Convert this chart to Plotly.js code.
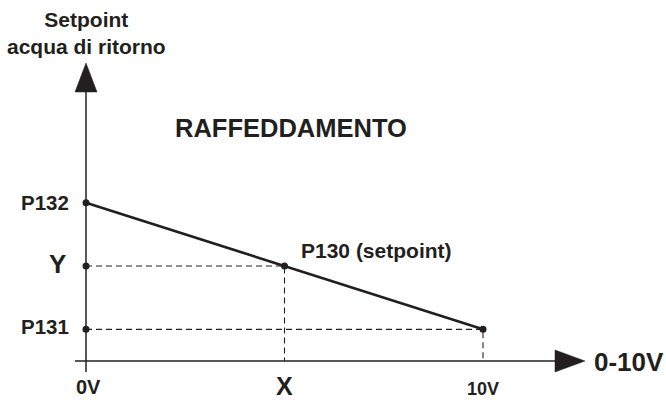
<!DOCTYPE html>
<html>
<head>
<meta charset="utf-8">
<script src="https://cdn.plot.ly/plotly-3.0.1.min.js"></script>
<style>html,body{margin:0;padding:0;background:#fff;}#chart{width:666px;height:400px;}</style>
</head>
<body>
<div id="chart"></div>
<script>
// ---- data ----
var voltage = [0, 5, 10];            // 0V, X, 10V
var setpoint = [2.5, 1.5, 0.5];      // P132, Y (P130), P131
var xTickLabels = ['0V', 'X', '10V'];
var yTickLabels = ['P132', 'Y', 'P131'];
var pointLabel = 'P130 (setpoint)';
var modeLabel = 'RAFFEDDAMENTO';
var yTitle = 'Setpoint<br>acqua di ritorno';
var xTitle = '0-10V';

var INK = '#231f20';
var FONT = 'Liberation Sans, Arial, sans-serif';
var W = 666, H = 400;
// helpers for decoration in pixel space (paper coordinates, zero margins)
function px(x){ return x / W; }
function py(y){ return 1 - y / H; }

var traces = [];
// main characteristic line P132 -> P131
traces.push({
  x: [voltage[0], voltage[2]], y: [setpoint[0], setpoint[2]],
  mode: 'lines', line: {color: INK, width: 2.6}, hoverinfo: 'skip'
});
// dashed guides for the setpoint point
traces.push({
  x: [voltage[0], voltage[1], voltage[1]], y: [setpoint[1], setpoint[1], 0],
  mode: 'lines', line: {color: INK, width: 1.1, dash: '6px,4px'}, hoverinfo: 'skip'
});
traces.push({
  x: [voltage[0], voltage[2], voltage[2]], y: [setpoint[2], setpoint[2], 0],
  mode: 'lines', line: {color: INK, width: 1.1, dash: '6px,4px'}, hoverinfo: 'skip'
});
// dots
traces.push({
  x: [voltage[0], voltage[0], voltage[0], voltage[1], voltage[2]],
  y: [setpoint[0], setpoint[1], setpoint[2], setpoint[1], setpoint[2]],
  mode: 'markers', marker: {color: INK, size: 7}, hoverinfo: 'skip'
});

var shapes = [
  // y axis line
  {type: 'line', xref: 'paper', yref: 'paper', x0: px(86), x1: px(86), y0: py(372), y1: py(90), line: {color: INK, width: 1.5}},
  // y arrow head
  {type: 'path', xref: 'paper', yref: 'paper', path: 'M ' + px(75) + ' ' + py(92) + ' L ' + px(97) + ' ' + py(92) + ' L ' + px(86) + ' ' + py(63) + ' Z', fillcolor: INK, line: {color: INK, width: 0.5}},
  // x axis line
  {type: 'line', xref: 'paper', yref: 'paper', x0: px(75), x1: px(557), y0: py(361), y1: py(361), line: {color: INK, width: 1.5}},
  // x arrow head
  {type: 'path', xref: 'paper', yref: 'paper', path: 'M ' + px(555) + ' ' + py(350) + ' L ' + px(555) + ' ' + py(372) + ' L ' + px(585) + ' ' + py(361) + ' Z', fillcolor: INK, line: {color: INK, width: 0.5}}
];

function ann(text, x, y, size, opts){
  var a = {text: '<b>' + text + '</b>', x: x, y: y, xref: 'x', yref: 'y', showarrow: false,
    font: {family: FONT, size: size, color: INK}, xanchor: 'center', yanchor: 'middle'};
  for (var k in opts) a[k] = opts[k];
  return a;
}

var annotations = [
  ann(yTitle, px(86), py(33), 21, {xref: 'paper', yref: 'paper'}),
  ann(modeLabel, px(291), py(128), 25.5, {xref: 'paper', yref: 'paper'}),
  ann(pointLabel, px(377), py(251), 21, {xref: 'paper', yref: 'paper'}),
  ann(yTickLabels[0], px(71), setpoint[0], 20.5, {xref: 'paper', xanchor: 'right'}),
  ann(yTickLabels[1], px(68), py(264), 26, {xref: 'paper', yref: 'paper', xanchor: 'right'}),
  ann(yTickLabels[2], px(71), setpoint[2], 20.5, {xref: 'paper', xanchor: 'right', yshift: 3}),
  ann(xTickLabels[0], voltage[0], py(387), 20, {yref: 'paper', xshift: 2}),
  ann(xTickLabels[1], voltage[1], py(386), 25, {yref: 'paper'}),
  ann(xTickLabels[2], voltage[2], py(389), 18, {yref: 'paper'}),
  ann(xTitle, px(592), py(362), 26, {xref: 'paper', yref: 'paper', xanchor: 'left'})
];

var kx = 39.7, ky = 63.32;
var layout = {
  width: W, height: H,
  margin: {l: 0, r: 0, t: 0, b: 0, pad: 0},
  paper_bgcolor: '#fff', plot_bgcolor: '#fff',
  showlegend: false,
  xaxis: {range: [-86 / kx, (W - 86) / kx], visible: false, fixedrange: true},
  yaxis: {range: [(361 - H) / ky, 361 / ky], visible: false, fixedrange: true},
  shapes: shapes,
  annotations: annotations
};

Plotly.newPlot('chart', traces, layout, {displayModeBar: false, staticPlot: true});
</script>
</body>
</html>
